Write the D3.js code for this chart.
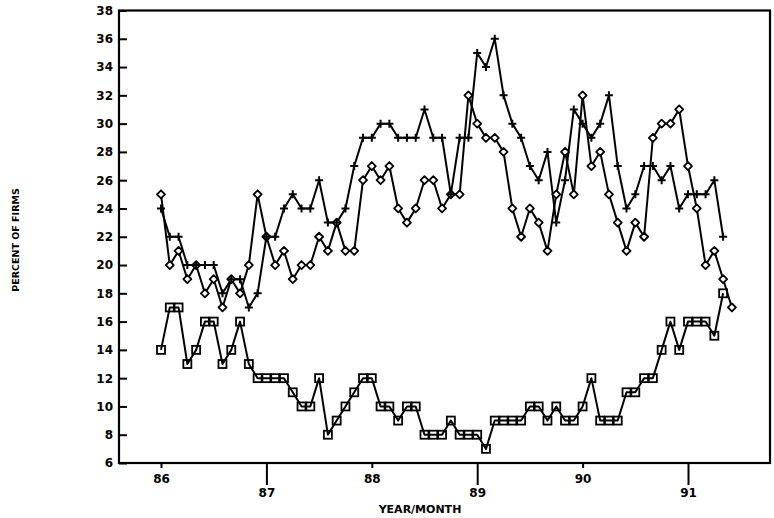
<!DOCTYPE html>
<html>
<head>
<meta charset="utf-8">
<script src="https://cdn.jsdelivr.net/npm/d3@7"></script>
<style>
  body { margin: 0; background: #fff; }
  svg { display: block; }
  text { font-family: "DejaVu Sans", "Liberation Sans", Arial, sans-serif; font-weight: bold; fill: #000; }
</style>
</head>
<body>
<script>
// monthly values, first point is jan of startYear
var startYear = 86;
var yearTicks = [86, 87, 88, 89, 90, 91];
var yTicks = [6, 8, 10, 12, 14, 16, 18, 20, 22, 24, 26, 28, 30, 32, 34, 36, 38];

// "+" series, jan 86 - may 91
var plusSeries = [
  24, 22, 22, 20, 20, 20, 20, 18, 19, 19, 17, 18,
  22, 22, 24, 25, 24, 24, 26, 23, 23, 24, 27, 29,
  29, 30, 30, 29, 29, 29, 31, 29, 29, 25, 29, 29,
  35, 34, 36, 32, 30, 29, 27, 26, 28, 23, 26, 31,
  30, 29, 30, 32, 27, 24, 25, 27, 27, 26, 27, 24,
  25, 25, 25, 26, 22
];
// diamond series, jan 86 - jun 91
var diamondSeries = [
  25, 20, 21, 19, 20, 18, 19, 17, 19, 18, 20, 25,
  22, 20, 21, 19, 20, 20, 22, 21, 23, 21, 21, 26,
  27, 26, 27, 24, 23, 24, 26, 26, 24, 25, 25, 32,
  30, 29, 29, 28, 24, 22, 24, 23, 21, 25, 28, 25,
  32, 27, 28, 25, 23, 21, 23, 22, 29, 30, 30, 31,
  27, 24, 20, 21, 19, 17
];
// square series, jan 86 - may 91
var squareSeries = [
  14, 17, 17, 13, 14, 16, 16, 13, 14, 16, 13, 12,
  12, 12, 12, 11, 10, 10, 12, 8, 9, 10, 11, 12,
  12, 10, 10, 9, 10, 10, 8, 8, 8, 9, 8, 8,
  8, 7, 9, 9, 9, 9, 10, 10, 9, 10, 9, 9,
  10, 12, 9, 9, 9, 11, 11, 12, 12, 14, 16, 14,
  16, 16, 16, 15, 18
];

var w = 774, h = 518;
var left = 119, right = 770;

var svg = d3.select("body").append("svg")
  .attr("width", w)
  .attr("height", h);

var x = d3.scaleLinear().domain([86, 91]).range([161, 688]);
var y = d3.scaleLinear().domain([6, 38]).range([463, 10.5]);

function toPoints(vals) {
  return vals.map(function(v, i) { return { t: startYear + i / 12, v: v }; });
}

var line = d3.line()
  .x(function(d) { return x(d.t); })
  .y(function(d) { return y(d.v); });

// y axis, ticks pointing inward
var yAxis = svg.append("g")
  .attr("transform", "translate(" + left + ",0)")
  .call(d3.axisLeft(y).tickValues(yTicks).tickSizeInner(-8).tickSizeOuter(0).tickPadding(6));
yAxis.select(".domain").remove();
yAxis.selectAll(".tick line").attr("stroke-width", 2);
yAxis.selectAll(".tick text")
  .attr("font-size", 12)
  .attr("font-family", null);

// x axis, alternate short and long ticks
var xAxis = svg.append("g")
  .attr("transform", "translate(0," + y(6) + ")")
  .call(d3.axisBottom(x).tickValues(yearTicks).tickFormat(d3.format("d")).tickSizeOuter(0));
xAxis.select(".domain").remove();
xAxis.selectAll(".tick line")
  .attr("stroke-width", 2)
  .attr("y2", function(d, i) { return i % 2 ? 22 : 5; });
xAxis.selectAll(".tick text")
  .attr("font-size", 12)
  .attr("font-family", null)
  .attr("y", function(d, i) { return i % 2 ? 25 : 11; });

// frame
svg.append("rect")
  .attr("x", left)
  .attr("y", y(38))
  .attr("width", right - left)
  .attr("height", y(6) - y(38))
  .attr("fill", "none")
  .attr("stroke", "#000")
  .attr("stroke-width", 2.2);

var series = [
  { name: "square", pts: toPoints(squareSeries) },
  { name: "diamond", pts: toPoints(diamondSeries) },
  { name: "plus", pts: toPoints(plusSeries) }
];

svg.append("g").selectAll("path")
  .data(series)
  .enter().append("path")
  .attr("d", function(d) { return line(d.pts); })
  .attr("fill", "none")
  .attr("stroke", "#000")
  .attr("stroke-width", 2)
  .attr("stroke-linejoin", "round");

// markers
svg.append("g").selectAll("rect")
  .data(series[0].pts)
  .enter().append("rect")
  .attr("x", function(d) { return x(d.t) - 4; })
  .attr("y", function(d) { return y(d.v) - 4; })
  .attr("width", 8)
  .attr("height", 8)
  .attr("fill", "none")
  .attr("stroke", "#000")
  .attr("stroke-width", 1.8);

svg.append("g").selectAll("path")
  .data(series[1].pts)
  .enter().append("path")
  .attr("transform", function(d) { return "translate(" + x(d.t) + "," + y(d.v) + ")"; })
  .attr("d", "M0,-4L4,0L0,4L-4,0Z")
  .attr("fill", "#fff")
  .attr("stroke", "#000")
  .attr("stroke-width", 1.8)
  .attr("stroke-linejoin", "round");

svg.append("g").selectAll("path")
  .data(series[2].pts)
  .enter().append("path")
  .attr("transform", function(d) { return "translate(" + x(d.t) + "," + y(d.v) + ")"; })
  .attr("d", "M-4,0H4M0,-4V4")
  .attr("fill", "none")
  .attr("stroke", "#000")
  .attr("stroke-width", 2);

// axis titles
svg.append("text")
  .attr("transform", "translate(19,240) rotate(-90)")
  .attr("text-anchor", "middle")
  .attr("font-size", 9.5)
  .text("PERCENT OF FIRMS");

svg.append("text")
  .attr("x", 420)
  .attr("y", 513)
  .attr("text-anchor", "middle")
  .attr("font-size", 11)
  .text("YEAR/MONTH");
</script>
</body>
</html>
